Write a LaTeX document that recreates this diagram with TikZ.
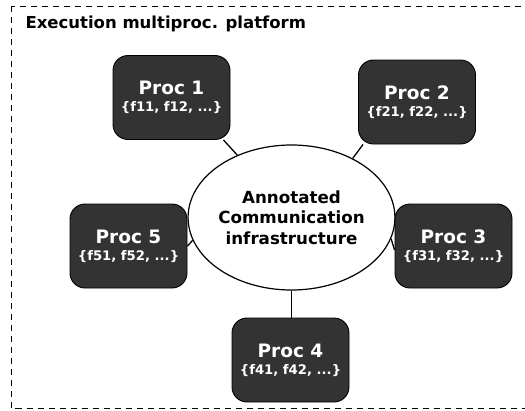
\documentclass[tikz,border=0pt]{standalone}
\usepackage{fontspec}
\setmainfont{DejaVu Sans}
\usetikzlibrary{shapes.geometric}
\definecolor{procfill}{HTML}{333333}
\tikzset{
  procbox/.style={draw=black, line width=0.9pt, fill=procfill, rounded corners=15pt,
    minimum width=117pt, minimum height=84pt, inner sep=0pt, text=white,
    align=center, font=\bfseries},
  hub/.style={draw=black, line width=1.2pt, fill=white, ellipse,
    minimum width=167pt, minimum height=145pt, inner sep=0pt, align=center,
    font=\fontsize{16.7}{20.7}\selectfont\bfseries},
  link/.style={draw=black, line width=1.3pt},
  frame/.style={draw=black, line width=0.9pt, dash pattern=on 6pt off 5pt},
}
\newcommand{\proclabel}[2]{{\fontsize{18.5}{19}\selectfont #1}\\[5pt]{\fontsize{13.2}{14}\selectfont #2}}
\begin{document}
\begin{tikzpicture}[x=1pt,y=-1pt]
\useasboundingbox (0,0) rectangle (525,410);
\path[frame] (11,6) rectangle (540,408.5);
\node[anchor=base west, font=\fontsize{16.5}{18}\selectfont\bfseries] (title) at (22,28.5) {Execution multiproc. platform};
\node[hub] (hub) at (291.5,217.5) {Annotated\\Communication\\infrastructure};
\node[procbox] (p1) at (171.5,97.5) {\proclabel{Proc 1}{\{f11, f12, ...\}}};
\node[procbox] (p2) at (417,102) {\proclabel{Proc 2}{\{f21, f22, ...\}}};
\node[procbox] (p3) at (453.5,246) {\proclabel{Proc 3}{\{f31, f32, ...\}}};
\node[procbox] (p4) at (290.5,360) {\proclabel{Proc 4}{\{f41, f42, ...\}}};
\node[procbox] (p5) at (128.5,246) {\proclabel{Proc 5}{\{f51, f52, ...\}}};
\draw[link] (hub.131.8) -- ([xshift=-7pt]p1.south east);
\draw[link] (hub.44.5) -- ([xshift=5pt]p2.south west);
\draw[link] (hub.-12) -- ([yshift=-4pt]p3.west);
\draw[link] (hub.south) -- (hub.south |- p4.north);
\draw[link] (hub.193.5) -- (p5.east);
\end{tikzpicture}
\end{document}
